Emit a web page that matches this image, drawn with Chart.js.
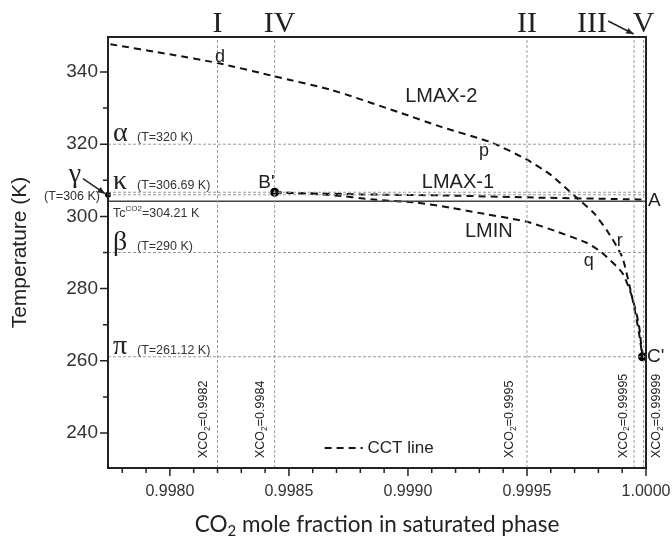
<!DOCTYPE html>
<html>
<head>
<meta charset="utf-8">
<script src="https://cdn.jsdelivr.net/npm/chart.js@4.4.1/dist/chart.umd.min.js"></script>
<style>
  html, body { margin: 0; padding: 0; background: #fff; }
</style>
</head>
<body>
<canvas id="phaseChart" width="672" height="538"></canvas>
<script>
// axis ticks
const xTicks = [0.9978, 0.9979, 0.9980, 0.9981, 0.9982, 0.9983, 0.9984, 0.9985, 0.9986, 0.9987, 0.9988,
  0.9989, 0.9990, 0.9991, 0.9992, 0.9993, 0.9994, 0.9995, 0.9996, 0.9997, 0.9998, 0.9999, 1.0000];
const xMajor = [0.9980, 0.9985, 0.9990, 0.9995, 1.0000];
const yTicks = [240, 250, 260, 270, 280, 290, 300, 310, 320, 330, 340];
const yMajor = [240, 260, 280, 300, 320, 340];

// CCT curves (CO2 mole fraction, temperature K)
const lmax2X = [0.99775, 0.9980, 0.9982, 0.99844, 0.99868, 0.99896, 0.99914, 0.99935, 0.9995, 0.9996,
  0.99971, 0.99978, 0.99984, 0.9999, 0.99993, 0.99995, 0.99997, 0.999985];
const lmax2Y = [347.7, 344.9, 342.5, 338.8, 335.0, 328.9, 324.8, 320.5, 315.7, 311.5,
  305.1, 301.0, 295.7, 288.8, 281.0, 275.0, 268.0, 261.12];
const lmax1X = [0.99844, 0.99852, 0.9988, 0.99915, 0.99955, 0.99997, 1.0];
const lmax1Y = [306.69, 306.5, 306.1, 305.8, 305.2, 304.7, 304.6];
const lminX = [0.99844, 0.99866, 0.99887, 0.99904, 0.99918, 0.99927, 0.9995, 0.99963, 0.99975,
  0.99981, 0.9999, 0.99994, 0.99997, 0.999985];
const lminY = [306.69, 306.0, 304.6, 303.8, 302.4, 301.3, 298.5, 295.7, 292.7,
  290.2, 284.4, 278.0, 270.0, 261.12];

// special points: B', C', gamma
const pointX = [0.99844, 0.999985];
const pointY = [306.69, 261.12];
const gammaT = 306;

// reference levels
const tempLevels = [320, 306.69, 306, 290, 261.12];
const tempNames = ['\u03B1', '\u03BA', '', '\u03B2', '\u03C0'];
const tempNotes = ['(T=320 K)', '(T=306.69 K)', '', '(T=290 K)', '(T=261.12 K)'];
const tcCO2 = 304.21;
const xco2Levels = [0.9982, 0.99844, 0.9995, 0.99995, 0.99999];
const xco2Notes = ['0.9982', '0.9984', '0.9995', '0.99995', '0.99999'];
const romanNames = ['I', 'IV', 'II', 'III', 'V'];

const X_MIN = 0.99774, X_MAX = 1.0, Y_MIN = 230.3, Y_MAX = 349.7;

const zip = (xs, ys) => xs.map((x, i) => ({ x: x, y: ys[i] }));
const same = (a, b) => Math.abs(a - b) < 1e-9;

const dotted = { borderColor: '#9b9b9b', borderWidth: 1, borderDash: [3, 2], pointRadius: 0, showLine: true };
const datasets = [];
tempLevels.forEach(t => datasets.push(Object.assign({ data: [{ x: X_MIN, y: t }, { x: X_MAX, y: t }] }, dotted)));
xco2Levels.forEach(v => datasets.push(Object.assign({ data: [{ x: v, y: Y_MIN }, { x: v, y: Y_MAX }] }, dotted)));
datasets.push({
  data: [{ x: X_MIN, y: tcCO2 }, { x: X_MAX, y: tcCO2 }],
  borderColor: '#444', borderWidth: 1.5, pointRadius: 0, showLine: true
});
const dashed = { borderColor: '#111', borderWidth: 2, borderDash: [7, 5], pointRadius: 0, showLine: true, tension: 0.2 };
datasets.push(Object.assign({ label: 'CCT line', data: zip(lmax2X, lmax2Y) }, dashed));
datasets.push(Object.assign({ data: zip(lmax1X, lmax1Y) }, dashed));
datasets.push(Object.assign({ data: zip(lminX, lminY) }, dashed));
datasets.push({ data: zip(pointX, pointY), pointRadius: 4.5, borderWidth: 0, backgroundColor: '#000', showLine: false, clip: false });
datasets.push({ data: [{ x: X_MIN, y: gammaT }], pointRadius: 3, borderWidth: 0, backgroundColor: '#000', showLine: false, clip: false });

function arrow(ctx, x1, y1, x2, y2) {
  const a = Math.atan2(y2 - y1, x2 - x1);
  ctx.beginPath();
  ctx.moveTo(x1, y1);
  ctx.lineTo(x2, y2);
  ctx.stroke();
  ctx.beginPath();
  ctx.moveTo(x2, y2);
  ctx.lineTo(x2 - 8 * Math.cos(a - 0.4), y2 - 8 * Math.sin(a - 0.4));
  ctx.lineTo(x2 - 8 * Math.cos(a + 0.4), y2 - 8 * Math.sin(a + 0.4));
  ctx.closePath();
  ctx.fill();
}

const decorations = {
  id: 'decorations',
  afterDraw(chart) {
    const ctx = chart.ctx;
    const xs = chart.scales.x, ys = chart.scales.y;
    const a = chart.chartArea;
    const px = v => xs.getPixelForValue(v), py = v => ys.getPixelForValue(v);
    const sans = '"Liberation Sans", Arial, sans-serif';
    const serif = '"Liberation Serif", "Times New Roman", serif';
    ctx.save();

    // frame and tick marks
    ctx.strokeStyle = '#222';
    ctx.lineWidth = 2;
    ctx.strokeRect(a.left, a.top, a.right - a.left, a.bottom - a.top);
    ctx.lineWidth = 1.5;
    ctx.beginPath();
    xTicks.forEach(v => {
      const len = xMajor.some(m => same(m, v)) ? 8 : 5;
      ctx.moveTo(px(v), a.bottom);
      ctx.lineTo(px(v), a.bottom + len);
    });
    yTicks.forEach(v => {
      const len = yMajor.some(m => same(m, v)) ? 8 : 5;
      ctx.moveTo(a.left, py(v));
      ctx.lineTo(a.left - len, py(v));
    });
    ctx.stroke();

    ctx.fillStyle = '#222';
    ctx.textBaseline = 'alphabetic';

    // axis titles
    const t1 = 'CO', t2 = ' mole fraction in saturated phase';
    ctx.font = '22.5px Lato, sans-serif';
    const w1 = ctx.measureText(t1).width, w3 = ctx.measureText(t2).width;
    ctx.font = '15px Lato, sans-serif';
    const w2 = ctx.measureText('2').width;
    const sx = (a.left + a.right) / 2 - (w1 + w2 + w3) / 2;
    ctx.textAlign = 'left';
    ctx.font = '22.5px Lato, sans-serif';
    ctx.fillText(t1, sx, 532);
    ctx.font = '15px Lato, sans-serif';
    ctx.fillText('2', sx + w1, 536);
    ctx.font = '22.5px Lato, sans-serif';
    ctx.fillText(t2, sx + w1 + w2, 532);

    ctx.save();
    ctx.translate(26, (a.top + a.bottom) / 2);
    ctx.rotate(-Math.PI / 2);
    ctx.textAlign = 'center';
    ctx.font = '21px ' + sans;
    ctx.fillText('Temperature (K)', 0, 0);
    ctx.restore();

    // roman numerals above the plot
    ctx.font = '30px ' + serif;
    ctx.textAlign = 'center';
    const romanShift = [0, 5, 0, -42, 0];
    xco2Levels.forEach((v, i) => ctx.fillText(romanNames[i], px(v) + romanShift[i], 32));
    ctx.lineWidth = 1.5;
    arrow(ctx, px(0.99995) - 26, 21, px(0.99999) - 10, 34);

    // temperature levels
    tempLevels.forEach((t, i) => {
      if (!tempNames[i]) return;
      ctx.textAlign = 'left';
      ctx.font = '28px ' + serif;
      ctx.fillStyle = '#222';
      ctx.fillText(tempNames[i], a.left + 5, py(t) - 3);
      ctx.font = '12.5px ' + sans;
      ctx.fillStyle = '#333';
      ctx.fillText(tempNotes[i], a.left + 29, py(t) - 3);
    });
    ctx.font = '12.5px ' + sans;
    ctx.fillStyle = '#333';
    ctx.textAlign = 'left';
    ctx.fillText('Tc', a.left + 5, py(tcCO2) + 16);
    let tw = ctx.measureText('Tc').width;
    ctx.font = '8px ' + sans;
    ctx.fillText('CO2', a.left + 5 + tw, py(tcCO2) + 10);
    tw += ctx.measureText('CO2').width;
    ctx.font = '12.5px ' + sans;
    ctx.fillText('=304.21 K', a.left + 5 + tw, py(tcCO2) + 16);

    // gamma note outside the axis
    ctx.textAlign = 'center';
    ctx.font = '28px ' + serif;
    ctx.fillStyle = '#222';
    ctx.fillText('\u03B3', 75, py(gammaT) - 13);
    ctx.font = '12.5px ' + sans;
    ctx.fillStyle = '#333';
    ctx.fillText('(T=306 K)', 72, py(gammaT) + 5);
    ctx.fillStyle = '#222';
    ctx.strokeStyle = '#222';
    arrow(ctx, a.left - 25, py(gammaT) - 16, a.left - 3, py(gammaT) - 1);

    // XCO2 vertical notes
    const noteShift = [-14, -14, -17, -11, 13];
    xco2Levels.forEach((v, i) => {
      ctx.save();
      ctx.translate(px(v) + noteShift[i], a.bottom - 10);
      ctx.rotate(-Math.PI / 2);
      ctx.textAlign = 'left';
      ctx.textBaseline = 'middle';
      ctx.font = '12.5px ' + sans;
      ctx.fillText('XCO', 0, 0);
      let w = ctx.measureText('XCO').width;
      ctx.font = '8.5px ' + sans;
      ctx.fillText('2', w, 4);
      w += ctx.measureText('2').width;
      ctx.font = '12.5px ' + sans;
      ctx.fillText('=' + xco2Notes[i], w, 0);
      ctx.restore();
    });

    // curve labels
    ctx.textBaseline = 'middle';
    ctx.textAlign = 'center';
    ctx.fillStyle = '#222';
    ctx.font = '20px ' + sans;
    ctx.fillText('LMAX-2', px(0.99914), py(333.1));
    ctx.fillText('LMAX-1', px(0.99921), py(309.3));
    ctx.fillText('LMIN', px(0.99934), py(295.7));
    ctx.font = '18px ' + sans;
    ctx.fillText('d', px(0.99821), py(344.2));
    ctx.fillText('p', px(0.99932), py(318.2));
    ctx.fillText('q', px(0.99976), py(287.6));
    ctx.fillText('r', px(0.99989), py(293.2));
    ctx.font = '19px ' + sans;
    ctx.textAlign = 'right';
    ctx.fillText("B'", px(0.99844), py(309.2));
    ctx.textAlign = 'left';
    ctx.fillText('A', px(1.0) + 2, py(tcCO2));
    ctx.fillText("C'", px(1.0) + 1, py(261.12));

    // legend
    ctx.strokeStyle = '#111';
    ctx.lineWidth = 2;
    ctx.setLineDash([7, 5]);
    ctx.beginPath();
    ctx.moveTo(px(0.99865), a.bottom - 20);
    ctx.lineTo(px(0.99881), a.bottom - 20);
    ctx.stroke();
    ctx.setLineDash([]);
    ctx.font = '17px ' + sans;
    ctx.fillText('CCT line', px(0.99883), a.bottom - 20);

    ctx.restore();
  }
};

new Chart(document.getElementById('phaseChart'), {
  type: 'scatter',
  data: { datasets: datasets },
  plugins: [decorations],
  options: {
    responsive: false,
    animation: false,
    layout: { padding: { top: 37, right: 26, left: 0, bottom: 0 } },
    plugins: { legend: { display: false }, tooltip: { enabled: false } },
    scales: {
      x: {
        type: 'linear',
        min: X_MIN,
        max: X_MAX,
        afterBuildTicks: scale => { scale.ticks = xTicks.map(v => ({ value: v })); },
        afterFit: scale => { scale.height = 70; scale.paddingLeft = 0; scale.paddingRight = 0; },
        grid: { display: false, drawTicks: false },
        border: { display: false },
        ticks: {
          autoSkip: false,
          maxRotation: 0,
          padding: 14,
          color: '#333',
          font: { family: '"Liberation Sans", Arial, sans-serif', size: 16 },
          callback: v => xMajor.some(m => same(m, v)) ? v.toFixed(4) : ''
        }
      },
      y: {
        min: Y_MIN,
        max: Y_MAX,
        afterBuildTicks: scale => { scale.ticks = yTicks.map(v => ({ value: v })); },
        afterFit: scale => { scale.width = 108; scale.paddingTop = 0; scale.paddingBottom = 0; },
        grid: { display: false, drawTicks: false },
        border: { display: false },
        ticks: {
          autoSkip: false,
          padding: 10,
          color: '#333',
          font: { family: '"Liberation Sans", Arial, sans-serif', size: 19 },
          callback: v => yMajor.some(m => same(m, v)) ? String(v) : ''
        }
      }
    }
  }
});
</script>
</body>
</html>
